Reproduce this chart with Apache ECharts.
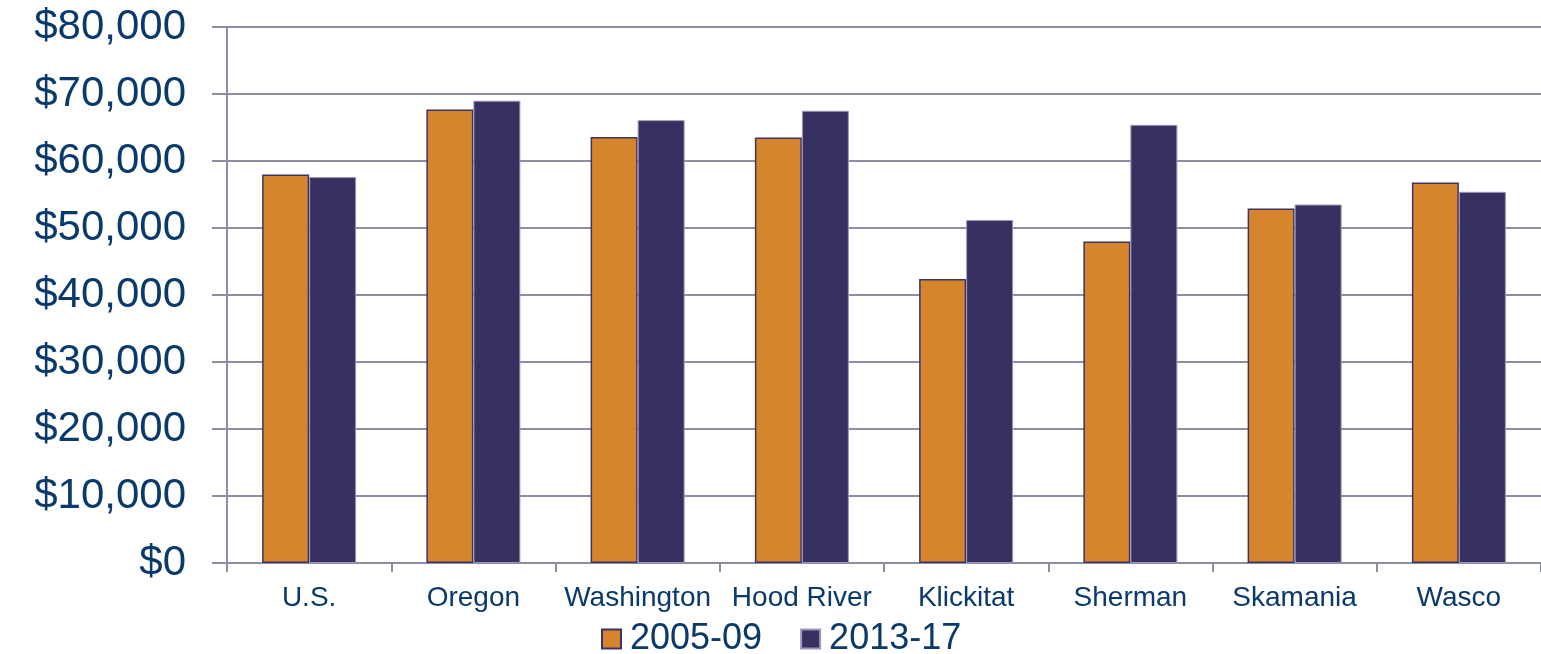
<!DOCTYPE html>
<html>
<head>
<meta charset="utf-8">
<script src="https://cdn.jsdelivr.net/npm/echarts@6/dist/echarts.min.js"></script>
<style>
  html, body { margin: 0; padding: 0; background: #fff; }
  #chart { width: 1541px; height: 654px; }
</style>
</head>
<body>
<div id="chart"></div>
<script>
// data
const categories = ['U.S.', 'Oregon', 'Washington', 'Hood River', 'Klickitat', 'Sherman', 'Skamania', 'Wasco']
const seriesNames = ['2005-09', '2013-17']
const income2005 = [58000, 67700, 63600, 63500, 42400, 48000, 52900, 56800]
const income2013 = [57600, 69000, 66100, 67500, 51200, 65400, 53500, 55400]

const textColor = '#0a3a6b'
const gridColor = '#8c8fa3'
const font = '"Liberation Sans", Arial, sans-serif'

const myChart = echarts.init(document.getElementById('chart'))

const option = {
  animation: false,
  grid: { left: 227, right: 0, top: 27, bottom: 91, containLabel: false },
  legend: {
    data: seriesNames,
    bottom: -8,
    left: 596,
    icon: 'rect',
    itemWidth: 19,
    itemHeight: 19,
    itemGap: 38,
    textStyle: { color: textColor, fontSize: 36, fontFamily: font, padding: [0, 0, 0, 4] }
  },
  xAxis: {
    type: 'category',
    data: categories,
    axisLine: { lineStyle: { color: gridColor, width: 2 } },
    axisTick: { show: true, length: 9, lineStyle: { color: gridColor, width: 2 } },
    axisLabel: { color: textColor, fontSize: 28, fontFamily: font, margin: 21, interval: 0 }
  },
  yAxis: {
    type: 'value',
    min: 0,
    max: 80000,
    interval: 10000,
    axisLine: { show: true, lineStyle: { color: gridColor, width: 2 } },
    axisTick: { show: true, length: 15, lineStyle: { color: gridColor, width: 2 } },
    splitLine: { lineStyle: { color: gridColor, width: 2 } },
    axisLabel: {
      color: textColor,
      fontSize: 42,
      fontFamily: font,
      margin: 41,
      formatter: v => '$' + v.toLocaleString('en-US')
    }
  },
  series: [
    {
      name: seriesNames[0],
      type: 'bar',
      data: income2005,
      barWidth: 47,
      barGap: '0%',
      itemStyle: { color: '#d6852d', borderColor: '#3b3466', borderWidth: 1.5 }
    },
    {
      name: seriesNames[1],
      type: 'bar',
      data: income2013,
      barWidth: 47,
      itemStyle: { color: '#373162', borderColor: '#9c98bb', borderWidth: 1 }
    }
  ]
}

myChart.setOption(option)
</script>
</body>
</html>
